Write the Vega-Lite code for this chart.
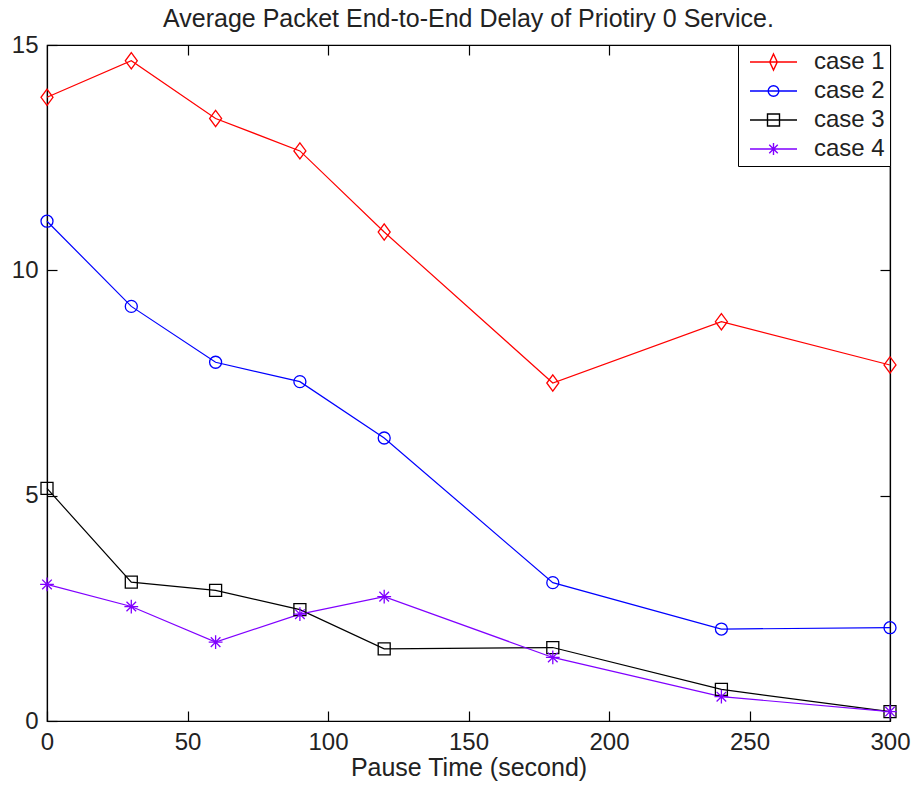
{
  "$schema": "https://vega.github.io/schema/vega-lite/v6.json",
  "width": 843,
  "height": 676,
  "autosize": {"type": "none"},
  "padding": {"left": 47, "top": 45, "right": 22, "bottom": 70},
  "background": "white",
  "title": {"text": "Average Packet End-to-End Delay of Priotiry 0 Service.", "fontSize": 25, "font": "Liberation Sans", "fontWeight": "normal", "color": "#222", "offset": 1},
  "config": {"view": {"stroke": "black", "strokeWidth": 1.2}, "font": "Liberation Sans", "axis": {"minExtent": 0},
    "legend": {"labelFontSize": 24, "labelFont": "Liberation Sans", "labelColor": "#222", "padding": 5, "rowPadding": 5, "labelLimit": 300}},
  "data": {"values": [
    {"t": 0, "d": 13.84, "case": "case 1"},
    {"t": 30, "d": 14.65, "case": "case 1"},
    {"t": 60, "d": 13.37, "case": "case 1"},
    {"t": 90, "d": 12.65, "case": "case 1"},
    {"t": 120, "d": 10.85, "case": "case 1"},
    {"t": 180, "d": 7.50, "case": "case 1"},
    {"t": 240, "d": 8.86, "case": "case 1"},
    {"t": 300, "d": 7.90, "case": "case 1"},
    {"t": 0, "d": 11.09, "case": "case 2"},
    {"t": 30, "d": 9.20, "case": "case 2"},
    {"t": 60, "d": 7.96, "case": "case 2"},
    {"t": 90, "d": 7.53, "case": "case 2"},
    {"t": 120, "d": 6.28, "case": "case 2"},
    {"t": 180, "d": 3.07, "case": "case 2"},
    {"t": 240, "d": 2.04, "case": "case 2"},
    {"t": 300, "d": 2.07, "case": "case 2"},
    {"t": 0, "d": 5.16, "case": "case 3"},
    {"t": 30, "d": 3.08, "case": "case 3"},
    {"t": 60, "d": 2.90, "case": "case 3"},
    {"t": 90, "d": 2.47, "case": "case 3"},
    {"t": 120, "d": 1.60, "case": "case 3"},
    {"t": 180, "d": 1.63, "case": "case 3"},
    {"t": 240, "d": 0.70, "case": "case 3"},
    {"t": 300, "d": 0.21, "case": "case 3"},
    {"t": 0, "d": 3.03, "case": "case 4"},
    {"t": 30, "d": 2.54, "case": "case 4"},
    {"t": 60, "d": 1.75, "case": "case 4"},
    {"t": 90, "d": 2.37, "case": "case 4"},
    {"t": 120, "d": 2.76, "case": "case 4"},
    {"t": 180, "d": 1.41, "case": "case 4"},
    {"t": 240, "d": 0.54, "case": "case 4"},
    {"t": 300, "d": 0.21, "case": "case 4"}
  ]},
  "layer": [
    {
      "mark": {"type": "line", "strokeWidth": 1.2},
      "encoding": {
        "x": {"field": "t", "type": "quantitative", "scale": {"domain": [0, 300], "nice": false, "zero": false},
          "axis": {"orient": "bottom", "values": [0, 50, 100, 150, 200, 250, 300], "tickSize": -10, "tickWidth": 1.2, "tickColor": "black", "domainColor": "black", "domainWidth": 1.2, "grid": false, "labelFontSize": 24, "labelColor": "#222", "labelPadding": 19, "labelFlush": false, "labelOverlap": false, "title": "Pause Time (second)", "titleFontSize": 25, "titleFontWeight": "normal", "titleColor": "#222", "titlePadding": 1}},
        "y": {"field": "d", "type": "quantitative", "scale": {"domain": [0, 15], "nice": false},
          "axis": {"orient": "left", "values": [0, 5, 10, 15], "tickSize": -10, "tickWidth": 1.2, "tickColor": "black", "domainColor": "black", "domainWidth": 1.2, "grid": false, "labelFontSize": 24, "labelColor": "#222", "labelPadding": 19, "labelFlush": false, "labelOverlap": false, "title": null}},
        "color": {"field": "case", "type": "nominal",
          "scale": {"domain": ["case 1", "case 2", "case 3", "case 4"], "range": ["#ff0000", "#0000ff", "#000000", "#8000ff"]},
          "legend": {"title": null, "orient": "top-right", "offset": 0, "strokeColor": "black", "fillColor": "white", "symbolSize": 100, "symbolStrokeWidth": 1.4, "labelOffset": 47, "labelExpr": "datum.label + '      '"}}
      }
    },
    {
      "encoding": {
        "x": {"field": "t", "type": "quantitative",
          "axis": {"orient": "top", "values": [50, 100, 150, 200, 250], "tickSize": -10, "tickWidth": 1.2, "tickColor": "black", "domainColor": "black", "domainWidth": 1.2, "grid": false, "labels": false, "title": null}},
        "y": {"field": "d", "type": "quantitative",
          "axis": {"orient": "right", "values": [5, 10], "tickSize": -10, "tickWidth": 1.2, "tickColor": "black", "domainColor": "black", "domainWidth": 1.2, "grid": false, "labels": false, "title": null}},
        "color": {"field": "case", "type": "nominal",
          "legend": {"title": null, "orient": "top-right", "offset": 0, "strokeColor": "black", "fillColor": "white", "symbolSize": 100, "symbolStrokeWidth": 1.4, "labelOffset": 47, "labelExpr": "datum.label + '      '"}}
      },
      "layer": [
        {"transform": [{"filter": "datum.case === 'case 1'"}], "mark": {"type": "point", "filled": false, "strokeWidth": 1.3, "size": 144, "opacity": 1, "shape": "M0,-1.35L1,0L0,1.35L-1,0Z"}},
        {"transform": [{"filter": "datum.case === 'case 2'"}], "mark": {"type": "point", "filled": false, "strokeWidth": 1.3, "size": 144, "opacity": 1, "shape": "circle"}},
        {"transform": [{"filter": "datum.case === 'case 3'"}], "mark": {"type": "point", "filled": false, "strokeWidth": 1.3, "size": 144, "opacity": 1, "shape": "square"}},
        {"transform": [{"filter": "datum.case === 'case 4'"}], "mark": {"type": "point", "filled": false, "strokeWidth": 1.3, "size": 144, "opacity": 1, "shape": "M-1.15,0H1.15M0,-1.15V1.15M-0.8,-0.8L0.8,0.8M-0.8,0.8L0.8,-0.8"}}
      ]
    },
    {
      "transform": [{"filter": "false"}],
      "mark": {"type": "point", "filled": false, "strokeWidth": 1.3, "size": 100, "opacity": 1},
      "encoding": {
        "x": {"field": "t", "type": "quantitative", "axis": null},
        "y": {"field": "d", "type": "quantitative", "axis": null},
        "color": {"field": "case", "type": "nominal",
          "legend": {"title": null, "orient": "top-right", "offset": 0, "strokeColor": "black", "fillColor": "white", "symbolSize": 100, "symbolStrokeWidth": 1.4, "labelOffset": 47, "labelExpr": "datum.label + '      '"}},
        "shape": {"field": "case", "type": "nominal",
          "scale": {"domain": ["case 1", "case 2", "case 3", "case 4"], "range": ["M-1,0H8.4M3.7,-1.6L4.45,0L3.7,1.6L2.95,0Z", "M-1,0H8.4M2.64,0A1.06,1.06 0 1,0 4.76,0A1.06,1.06 0 1,0 2.64,0", "M-1,0H8.4M2.5,-1.2H4.9V1.2H2.5Z", "M-1,0H8.4M3.7,-1.2V1.2M2.85,-0.85L4.55,0.85M2.85,0.85L4.55,-0.85"]},
          "legend": null}
      }
    }
  ],
  "resolve": {"axis": {"x": "independent", "y": "independent"}}
}
